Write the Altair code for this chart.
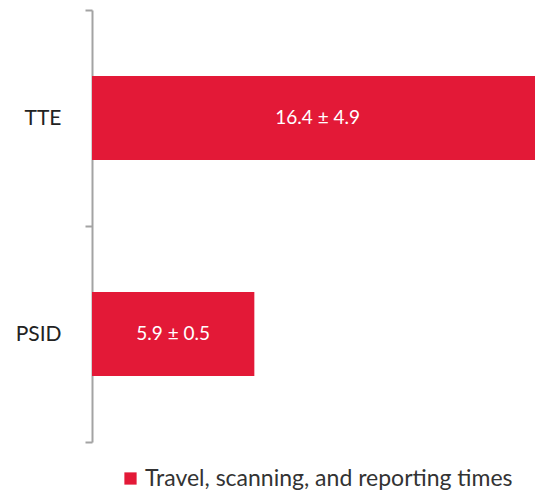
import altair as alt
import pandas as pd

categories = ["TTE", "PSID"]
means = [16.4, 5.9]
sds = [4.9, 0.5]
series_name = "Travel, scanning, and reporting times"

df = pd.DataFrame({
    "cat": categories,
    "mean": means,
    "sd": sds,
    "series": [series_name] * len(categories),
})
df["label"] = [f"{m} \u00b1 {s}" for m, s in zip(means, sds)]

red = "#E31937"
font = "Lato"

y_enc = alt.Y("cat:N", sort=categories, title=None,
              scale=alt.Scale(paddingInner=0, paddingOuter=0),
              axis=alt.Axis(tickBand="extent", domainColor="#A3A3A3", tickColor="#A3A3A3",
                            domainWidth=2, tickWidth=2, tickSize=7, labelPadding=24,
                            labelFontSize=21, labelColor="#222222", labelFont=font,
                            grid=False))
x_scale = alt.Scale(domain=[0, 16.1], clamp=True, nice=False)

bars = alt.Chart(df).mark_bar(color=red, height={"band": 0.39}).encode(
    y=y_enc,
    x=alt.X("mean:Q", scale=x_scale, axis=None),
    color=alt.Color("series:N", scale=alt.Scale(range=[red]),
                    legend=alt.Legend(title=None, orient="none", legendX=27, legendY=457,
                                      symbolType="square", symbolSize=150, symbolStrokeWidth=0,
                                      labelFontSize=23, labelFont=font, labelColor="#333333",
                                      labelLimit=500, labelOffset=3, symbolOffset=0)),
)

text = alt.Chart(df).transform_calculate(half="datum.mean / 2").mark_text(
    color="white", fontSize=19, font=font, align="center", baseline="middle"
).encode(
    y=alt.Y("cat:N", sort=categories),
    x=alt.X("half:Q", scale=x_scale),
    text="label:N",
)

chart = alt.layer(bars, text).properties(
    width=443, height=432,
    autosize=alt.AutoSizeParams(type="none"),
    padding={"left": 84, "top": 2, "right": 0, "bottom": 49},
).configure_view(stroke=None)

chart.save("out.html", embed_options={"renderer": "svg", "actions": False})
